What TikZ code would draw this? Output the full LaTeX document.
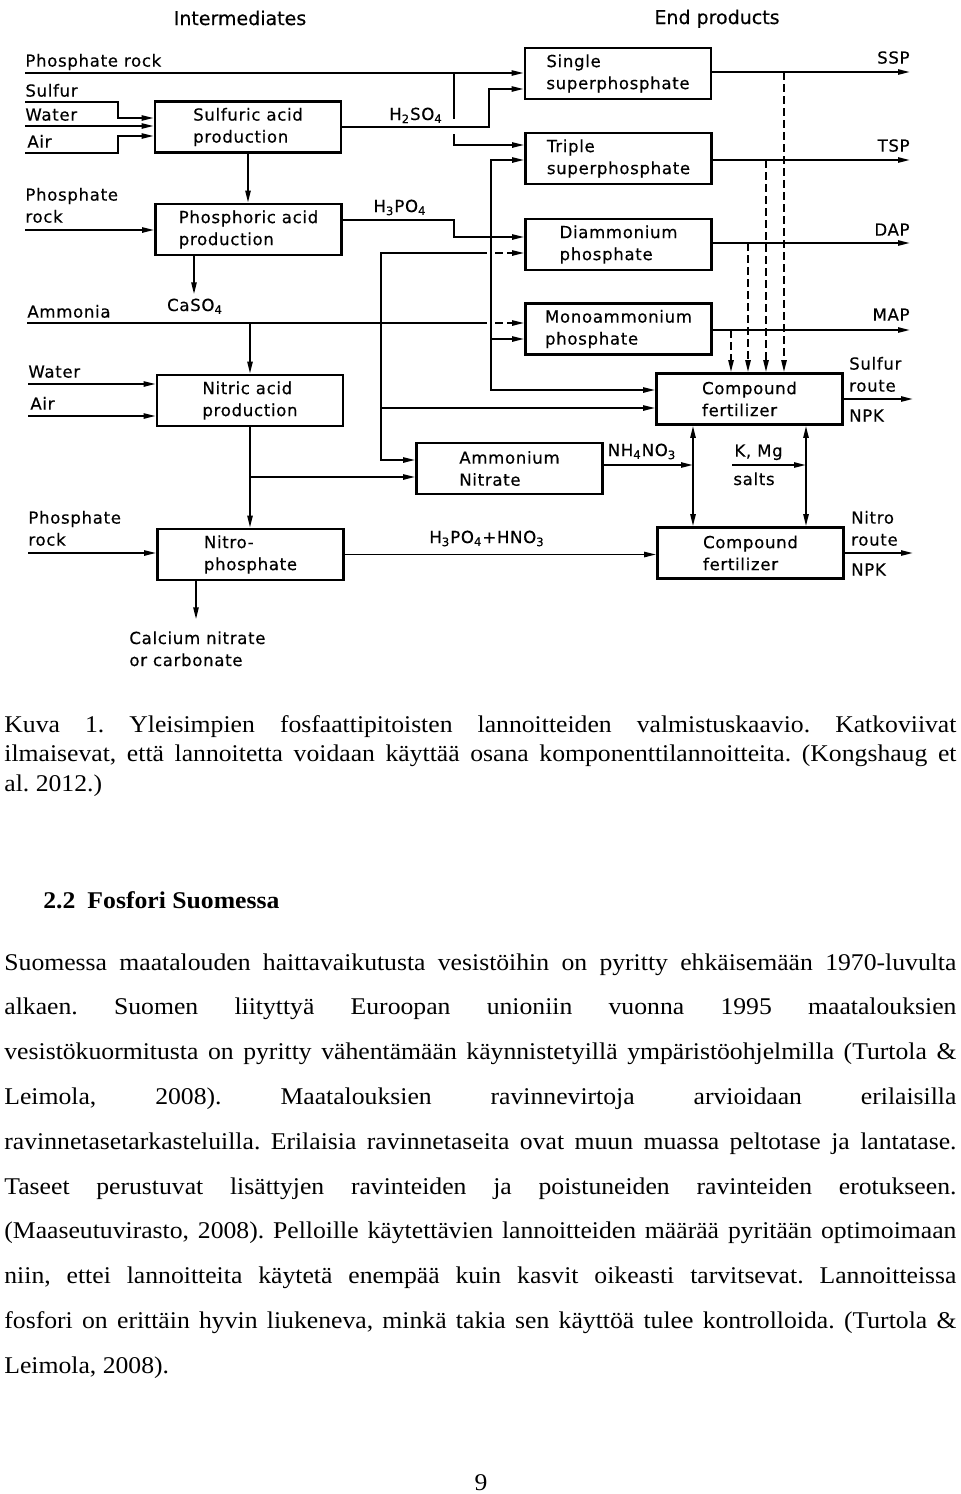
\documentclass[tikz,border=0pt]{standalone}
\usepackage{fontspec}
\setmainfont[FakeStretch=1.07]{Liberation Serif}
\newfontfamily\diagfont[LetterSpace=4,FakeBold=0.4]{DejaVu Sans}
\newfontfamily\headfont[FakeBold=0.4]{DejaVu Sans}
\usetikzlibrary{arrows.meta,positioning}
\frenchspacing
\newcommand{\jline}[1]{\makebox[476pt][s]{#1}}
\tikzset{
  >={Triangle[length=6pt,width=2.6pt]},
  proc/.style={draw, line width=1.3pt, minimum width=93pt, minimum height=25.5pt,
    inner sep=0pt, align=left, font=\diagfont\fontsize{8.3}{11}\selectfont},
  lbl/.style={inner sep=0pt, align=left, text depth=0pt, font=\diagfont\fontsize{8.3}{11}\selectfont},
  ttl/.style={inner sep=0pt, anchor=base, font=\headfont\fontsize{9.5}{11}\selectfont},
  pipe/.style={line width=0.9pt},
  flow/.style={pipe, ->},
  both/.style={pipe, <->},
  opt/.style={pipe, dash pattern=on 4pt off 2pt},
  body/.style={anchor=base west, inner sep=0pt, font=\fontsize{12}{14}\selectfont},
}
\begin{document}
\begin{tikzpicture}[x=0.5pt, y=-0.5pt]
  \useasboundingbox (0,0) rectangle (960,1494);

  % column titles
  \node[ttl] (tInter) at (240,25) {Intermediates};
  \node[ttl] (tEnd)   at (717,24) {End products};

  % intermediates
  \node[proc] (sulf) at (248,127)     {Sulfuric acid\\production};
  \node[proc] (phos) at (248.5,229.5) {Phosphoric acid\\production};
  \node[proc] (nitr) at (250,400.5)   {Nitric acid\\production};
  \node[proc] (nitp) at (250.5,554.5) {Nitro-\\phosphate};
  \node[proc] (amni) at (509.5,468.5) {Ammonium\\Nitrate};

  % end products
  \node[proc] (ssp) at (618,73.5)  {Single\\superphosphate};
  \node[proc] (tsp) at (618.5,158.5) {Triple\\superphosphate};
  \node[proc] (dap) at (618.5,244.5) {Diammonium\\phosphate};
  \node[proc] (map) at (618.5,329) {Monoammonium\\phosphate};
  \node[proc] (cfs) at (749.5,399) {Compound\\fertilizer};
  \node[proc] (cfn) at (750.5,553) {Compound\\fertilizer};

  % raw materials
  \coordinate (inPR1) at (25,73);
  \coordinate (inSu)  at (25,102);
  \coordinate (inWa1) at (25,126);
  \coordinate (inAi1) at (25,153);
  \coordinate (inPR2) at (25,230);
  \coordinate (inAm)  at (27,323);
  \coordinate (inWa2) at (28,384);
  \coordinate (inAi2) at (28,416);
  \coordinate (inPR3) at (28,553);
  \node[lbl, above right=3pt and 0pt of inPR1] (lPR1) {Phosphate rock};
  \node[lbl, above right=2.5pt and 0pt of inSu]  (lSu)  {Sulfur};
  \node[lbl, above right=2.5pt and 0pt of inWa1] (lWa1) {Water};
  \node[lbl, above right=2.5pt and 1pt of inAi1] (lAi1) {Air};
  \node[lbl, above right=3.5pt and 0pt of inPR2] (lPR2) {Phosphate\\rock};
  \node[lbl, above right=2.5pt and 0pt of inAm]  (lAm)  {Ammonia};
  \node[lbl, above right=3pt and 0pt of inWa2]   (lWa2) {Water};
  \node[lbl, above right=3pt and 1pt of inAi2]   (lAi2) {Air};
  \node[lbl, above right=3.5pt and 0pt of inPR3] (lPR3) {Phosphate\\rock};

  % phosphate rock to SSP and TSP
  \coordinate (jPR) at (454,73);
  \draw[flow] (inPR1) -- (inPR1 -| ssp.west);
  \draw[pipe] (jPR) -- ++(0,46);
  \draw[flow] (jPR) ++(0,61) |- (tsp.west |- 0,145);

  % sulfuric acid
  \draw[flow] (inSu) -- ++(93,0) |- (sulf.west |- 0,118);
  \draw[flow] (inWa1) -- (inWa1 -| sulf.west);
  \draw[flow] (inAi1) -- ++(93,0) |- (sulf.west |- 0,136);
  \draw[flow] (sulf.east) -- ++(147,0) |- (ssp.west |- 0,89);
  \node[lbl, anchor=base] (lH2SO4) at (416,120) {H\textsubscript{2}SO\textsubscript{4}};
  \draw[flow] (sulf.south) -- (sulf.south |- phos.north);

  % phosphoric acid
  \draw[flow] (inPR2) -- (inPR2 -| phos.west);
  \draw[flow] (phos.east |- 0,220) -- ++(111,0) |- (dap.west |- 0,237);
  \node[lbl, anchor=base] (lH3PO4) at (400,212) {H\textsubscript{3}PO\textsubscript{4}};
  \coordinate (jPA) at (491,237);
  \draw[flow] (jPA) |- (tsp.west |- 0,160);
  \draw[flow] (jPA) |- (cfs.west |- 0,390);
  \draw[flow] (jPA |- 0,339) -- (map.west |- 0,339);
  \draw[flow] (phos.south -| 194,0) -- ++(0,38);
  \node[lbl, anchor=base] (lCaSO4) at (195,311) {CaSO\textsubscript{4}};

  % ammonia
  \coordinate (jAm) at (381,323);
  \draw[pipe] (inAm) -- (jAm) -- ++(106,0);
  \draw[opt, ->] (jAm) ++(114,0) -- (map.west |- 0,323);
  \draw[flow] (inAm -| nitr.north) -- (nitr.north);
  \draw[pipe] (jAm) -- ++(0,-70) -- ++(106,0);
  \draw[opt, ->] (jAm) ++(114,-70) -- (dap.west |- 0,253);
  \draw[flow] (jAm) |- (amni.west |- 0,460);
  \draw[flow] (jAm |- 0,408) -- (cfs.west |- 0,408);

  % nitric acid
  \draw[flow] (inWa2) -- (inWa2 -| nitr.west);
  \draw[flow] (inAi2) -- (inAi2 -| nitr.west);
  \draw[flow] (nitr.south) -- (nitr.south |- nitp.north);
  \draw[flow] (nitr.south |- 0,477) -- (amni.west |- 0,477);

  % nitrophosphate
  \draw[flow] (inPR3) -- (inPR3 -| nitp.west);
  \draw[flow] (nitp.south -| 196,0) -- ++(0,38);
  \node[lbl, anchor=north west] (lCaN) at (129,631) {Calcium nitrate\\or carbonate};
  \draw[flow] (nitp.east) -- (nitp.east -| cfn.west);
  \node[lbl, anchor=base] (lMix) at (487,543) {H\textsubscript{3}PO\textsubscript{4}+HNO\textsubscript{3}};

  % ammonium nitrate and salts
  \coordinate (jAN) at (693,465);
  \coordinate (jKM) at (806,465);
  \coordinate (inKM) at (732,465);
  \draw[flow] (amni.east |- jAN) -- (jAN);
  \node[lbl, anchor=base] (lAN) at (642,456) {NH\textsubscript{4}NO\textsubscript{3}};
  \draw[both] (cfs.south -| jAN) -- (cfn.north -| jAN);
  \draw[both] (cfs.south -| jKM) -- (cfn.north -| jKM);
  \draw[flow] (inKM) -- (jKM);
  \node[lbl, above right=4pt and 1pt of inKM] (lKM) {K, Mg};
  \node[lbl, below right=3.5pt and 0.5pt of inKM] (lSalts) {salts};

  % products out
  \coordinate (oSSP) at (910,72);
  \coordinate (oTSP) at (910,160);
  \coordinate (oDAP) at (910,243);
  \coordinate (oMAP) at (910,330);
  \coordinate (oCFS) at (913,399);
  \coordinate (oCFN) at (913,553);
  \draw[flow] (ssp.east |- oSSP) -- (oSSP);
  \draw[flow] (tsp.east |- oTSP) -- (oTSP);
  \draw[flow] (dap.east |- oDAP) -- (oDAP);
  \draw[flow] (map.east |- oMAP) -- (oMAP);
  \draw[flow] (cfs.east |- oCFS) -- (oCFS);
  \draw[flow] (cfn.east |- oCFN) -- (oCFN);
  \node[lbl, above left=4pt and 0pt of oSSP] (lSSP) {SSP};
  \node[lbl, above left=4pt and 0pt of oTSP] (lTSP) {TSP};
  \node[lbl, above left=3.5pt and 0pt of oDAP] (lDAP) {DAP};
  \node[lbl, above left=4.5pt and 0pt of oMAP] (lMAP) {MAP};
  \node[lbl, above right=3.5pt and 2.5pt of cfs.east] (lSr) {Sulfur\\route};
  \node[lbl, below right=5pt and 2.5pt of cfs.east] (lNPK1) {NPK};
  \node[lbl, above right=3.5pt and 3pt of cfn.east] (lNr) {Nitro\\route};
  \node[lbl, below right=5pt and 3pt of cfn.east] (lNPK2) {NPK};

  % dashed: products used in compound fertilizer
  \coordinate (dS) at (784,72);
  \coordinate (dT) at (766,160);
  \coordinate (dD) at (748,243);
  \coordinate (dM) at (731,330);
  \foreach \p in {dS,dT,dD,dM}
    \draw[opt, ->] (\p) -- (\p |- cfs.north);

  % caption and text
  \node[body] (c1) at (4,732) {\jline{Kuva 1. Yleisimpien fosfaattipitoisten lannoitteiden valmistuskaavio. Katkoviivat}};
  \node[body] (c2) at (4,761.5) {\jline{ilmaisevat, että lannoitetta voidaan käyttää osana komponenttilannoitteita. (Kongshaug et}};
  \node[body] (c3) at (4,791) {al. 2012.)};
  \node[body, font=\bfseries\fontsize{12}{14}\selectfont] (h22) at (43,908) {2.2\hspace{6pt}Fosfori Suomessa};
  \node[body] (b1) at (4,970) {\jline{Suomessa maatalouden haittavaikutusta vesistöihin on pyritty ehkäisemään 1970-luvulta}};
  \node[body] (b2) at (4,1014.8) {\jline{alkaen. Suomen liityttyä Euroopan unioniin vuonna 1995 maatalouksien}};
  \node[body] (b3) at (4,1059.6) {\jline{vesistökuormitusta on pyritty vähentämään käynnistetyillä ympäristöohjelmilla (Turtola \&}};
  \node[body] (b4) at (4,1104.4) {\jline{Leimola, 2008). Maatalouksien ravinnevirtoja arvioidaan erilaisilla}};
  \node[body] (b5) at (4,1149.2) {\jline{ravinnetasetarkasteluilla. Erilaisia ravinnetaseita ovat muun muassa peltotase ja lantatase.}};
  \node[body] (b6) at (4,1194) {\jline{Taseet perustuvat lisättyjen ravinteiden ja poistuneiden ravinteiden erotukseen.}};
  \node[body] (b7) at (4,1238.8) {\jline{(Maaseutuvirasto, 2008). Pelloille käytettävien lannoitteiden määrää pyritään optimoimaan}};
  \node[body] (b8) at (4,1283.6) {\jline{niin, ettei lannoitteita käytetä enempää kuin kasvit oikeasti tarvitsevat. Lannoitteissa}};
  \node[body] (b9) at (4,1328.4) {\jline{fosfori on erittäin hyvin liukeneva, minkä takia sen käyttöä tulee kontrolloida. (Turtola \&}};
  \node[body] (b10) at (4,1373.2) {Leimola, 2008).};
  \node[body, anchor=base] (pg) at (481,1490) {9};
\end{tikzpicture}
\end{document}
